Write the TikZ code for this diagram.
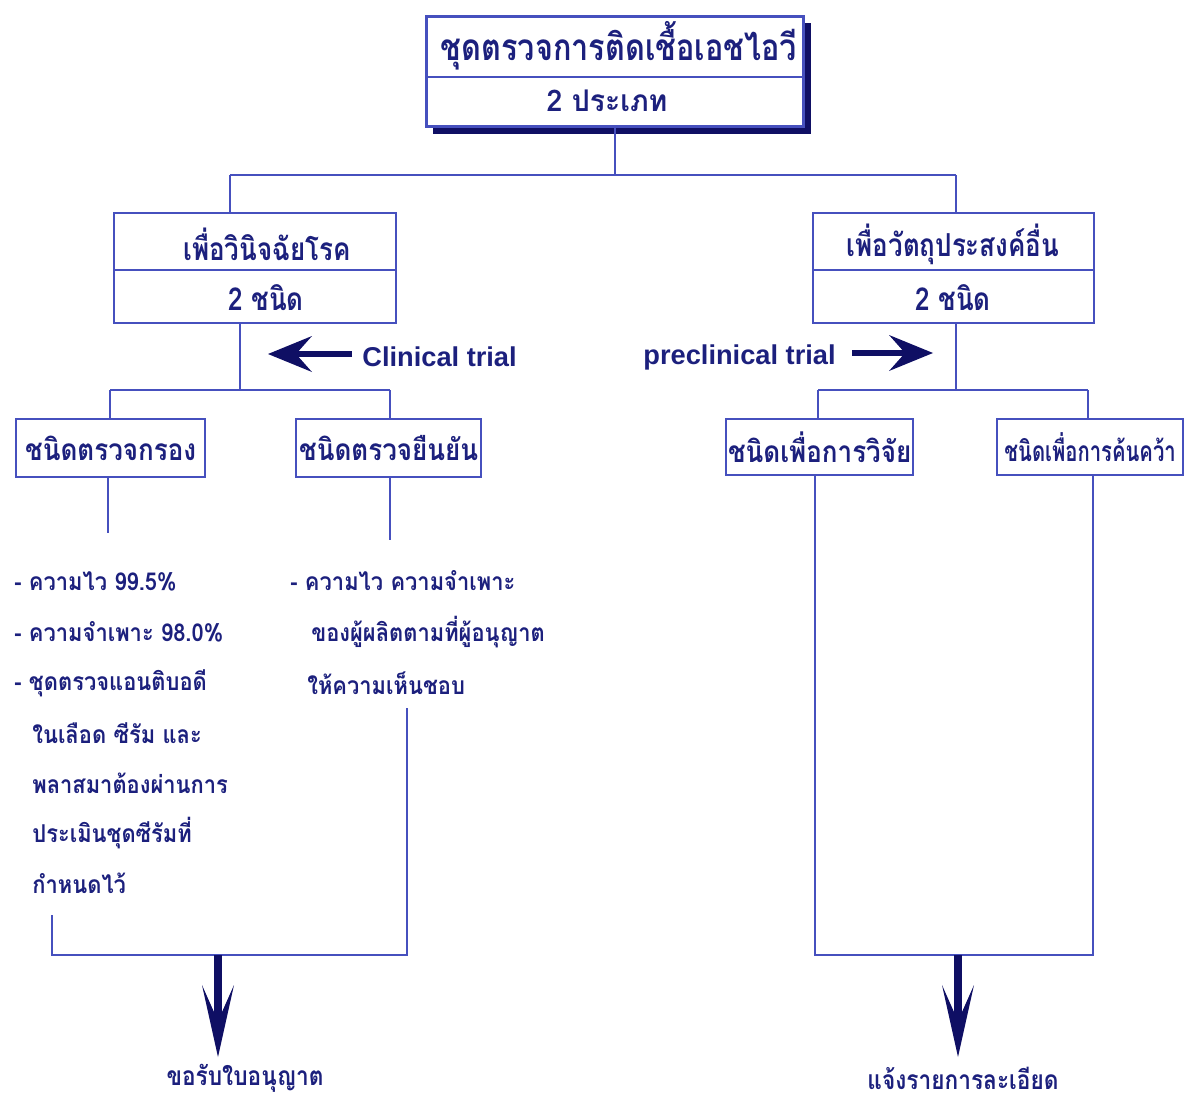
\documentclass[tikz,border=0pt]{standalone}
\usepackage{fontspec}
\newfontfamily\thai[Script=Thai]{Loma}
\newfontfamily\lat{Liberation Sans}
\newcommand\thsz[2]{\thai\bfseries\fontsize{#1}{#1}\selectfont\addfontfeature{FakeStretch=#2}}
\definecolor{linec}{RGB}{70,80,190}
\definecolor{textc}{RGB}{28,32,125}
\definecolor{arrc}{RGB}{15,15,100}
\tikzset{
  box/.style={draw=linec, line width=1.3pt, anchor=north west, inner sep=0pt, fill=white},
  conn/.style={draw=linec, line width=1.1pt},
  txt/.style={text=textc, inner sep=0pt},
  lst/.style={txt, anchor=west, font=\thsz{14}{0.89}},
  boxtxt/.style={txt, font=\thsz{18}{0.82}},
  smalltxt/.style={txt, font=\thsz{17}{0.87}},
  bigshaft/.style={draw=arrc, line width=4.5pt},
  sideshaft/.style={draw=arrc, line width=3.2pt},
  headfill/.style={fill=arrc}
}
\begin{document}
\begin{tikzpicture}[x=0.02cm,y=-0.02cm]
\useasboundingbox (0,0) rectangle (1184,1102);
% top box with shadow
\fill[arrc] (433,23) rectangle (811,134);
\node[box, line width=1.8pt, minimum width=7.54cm, minimum height=2.2cm] (top) at (425,15) {};
\draw[conn, line width=1.5pt] (425,77) -- (802,77);
\node[txt, font=\thsz{21}{0.83}] (t1) at (619,46) {ชุดตรวจการติดเชื้อเอชไอวี};
\node[txt, font=\thsz{17}{0.95}] (t2) at (607,101) {2 ประเภท};
% second level
\node[box, minimum width=5.64cm, minimum height=2.2cm] (diag) at (113,212) {};
\draw[conn] (113,270) -- (395,270);
\node[boxtxt] (d1) at (267,244) {เพื่อวินิจฉัยโรค};
\node[boxtxt] (d2) at (266,298) {2 ชนิด};
\node[box, minimum width=5.62cm, minimum height=2.2cm] (other) at (812,212) {};
\draw[conn] (812,270) -- (1093,270);
\node[boxtxt] (o1) at (953,244) {เพื่อวัตถุประสงค์อื่น};
\node[boxtxt] (o2) at (953,298) {2 ชนิด};
% top connectors
\coordinate (jl) at (230,175);
\coordinate (jr) at (956,175);
\draw[conn] (top.south) -- (top.south |- jl);
\draw[conn] (jl) -- (jr);
\draw[conn] (jl) -- (jl |- diag.north);
\draw[conn] (jr) -- (jr |- other.north);
% third level boxes
\node[box, minimum width=3.78cm, minimum height=1.16cm] (scr) at (15,418) {};
\node[smalltxt] (scrt) at (scr.center) {ชนิดตรวจกรอง};
\node[box, minimum width=3.7cm, minimum height=1.16cm] (conf) at (295,418) {};
\node[smalltxt] (conft) at (conf.center) {ชนิดตรวจยืนยัน};
\node[box, minimum width=3.74cm, minimum height=1.12cm] (res) at (725,418) {};
\node[smalltxt] (rest) at (res.center) {ชนิดเพื่อการวิจัย};
\node[box, minimum width=3.72cm, minimum height=1.12cm] (stu) at (996,418) {};
\node[txt, font=\thsz{16}{0.72}] (stut) at (stu.center) {ชนิดเพื่อการค้นคว้า};
% left branch connectors
\coordinate (x240) at (240,390);
\coordinate (hl) at (110,390);
\coordinate (hr) at (390,390);
\draw[conn] (x240 |- diag.south) -- (x240);
\draw[conn] (hl) -- (hr);
\draw[conn] (hl) -- (hl |- scr.north);
\draw[conn] (hr) -- (hr |- conf.north);
% right branch connectors
\coordinate (x956) at (956,390);
\coordinate (rl) at (818,390);
\coordinate (rr) at (1088,390);
\draw[conn] (x956 |- other.south) -- (x956);
\draw[conn] (rl) -- (rr);
\draw[conn] (rl) -- (rl |- res.north);
\draw[conn] (rr) -- (rr |- stu.north);
% clinical trial arrow
\node[txt, anchor=west, font=\lat\bfseries\fontsize{15.5}{18}\selectfont] (clin) at (362,357) {Clinical trial};
\coordinate (clintip) at (268,354);
\draw[sideshaft] (352,354) -- (290,354);
\fill[headfill] (clintip) -- ++(44,-18) -- ++(-16,18) -- ++(16,18) -- cycle;
% preclinical trial arrow
\node[txt, anchor=east, font=\lat\bfseries\fontsize{15.5}{18}\selectfont] (pre) at (836,357) {preclinical trial};
\coordinate (pretip) at (933,353);
\draw[sideshaft] (852,353) -- (912,353);
\fill[headfill] (pretip) -- ++(-44,-18) -- ++(16,18) -- ++(-16,18) -- cycle;
% stubs under boxes
\coordinate (s1) at (108,533);
\coordinate (s2) at (390,540);
\draw[conn] (s1 |- scr.south) -- (s1);
\draw[conn] (s2 |- conf.south) -- (s2);
% lists
\node[lst] (l1) at (14,581) {- ความไว 99.5\%};
\node[lst] (l2) at (14,632) {- ความจำเพาะ 98.0\%};
\node[lst] (l3) at (14,683) {- ชุดตรวจแอนติบอดี};
\node[lst] (l4) at (32,733) {ในเลือด ซีรัม และ};
\node[lst] (l5) at (32,783) {พลาสมาต้องผ่านการ};
\node[lst] (l6) at (32,833) {ประเมินชุดซีรัมที่};
\node[lst] (l7) at (32,883) {กำหนดไว้};
\node[lst] (r1) at (290,581) {- ความไว ความจำเพาะ};
\node[lst] (r2) at (311,632) {ของผู้ผลิตตามที่ผู้อนุญาต};
\node[lst] (r3) at (307,683) {ให้ความเห็นชอบ};
% left bracket and arrow
\coordinate (bl) at (52,915);
\coordinate (br) at (407,708);
\coordinate (bm) at (218,955);
\coordinate (btip) at (218,1057);
\draw[conn] (bl) -- (bl |- bm) -- (br |- bm) -- (br);
\node[txt, font=\thsz{15}{0.86}] (lic) at (245,1078) {ขอรับใบอนุญาต};
\draw[bigshaft] (bm) -- ++(0,70);
\fill[headfill] (btip) -- ++(-16,-72) -- ++(16,36) -- ++(16,-36) -- cycle;
% right bracket and arrow
\coordinate (rm) at (958,955);
\coordinate (rtip) at (958,1057);
\coordinate (rbl) at (815,955);
\coordinate (rbr) at (1093,955);
\draw[conn] (rbl |- res.south) -- (rbl) -- (rbr) -- (rbr |- stu.south);
\node[txt, font=\thsz{15}{0.86}] (det) at (963,1078) {แจ้งรายการละเอียด};
\draw[bigshaft] (rm) -- ++(0,70);
\fill[headfill] (rtip) -- ++(-16,-72) -- ++(16,36) -- ++(16,-36) -- cycle;
\end{tikzpicture}
\end{document}
